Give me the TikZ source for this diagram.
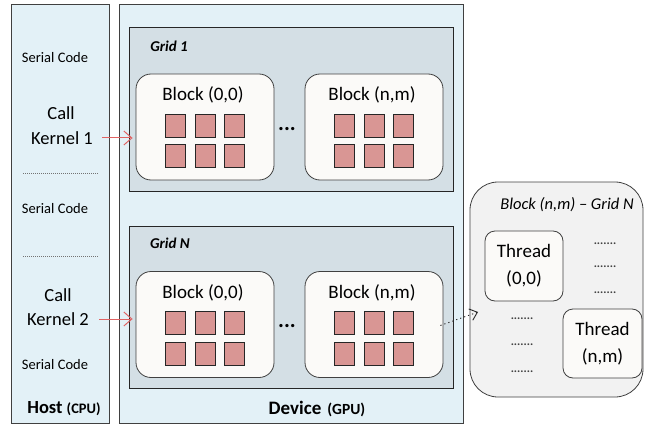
\documentclass[tikz,border=0pt]{standalone}
\usepackage{fontspec}
\setmainfont{Carlito}
\usetikzlibrary{positioning,calc,arrows.meta}

\definecolor{panelblue}{HTML}{E3F1F7}
\definecolor{gridgray}{HTML}{D4DFE5}
\definecolor{blockwhite}{HTML}{FBFAF8}
\definecolor{cellred}{HTML}{D99694}
\definecolor{detailgray}{HTML}{F2F2F2}
\definecolor{callred}{HTML}{E06363}

\tikzset{
  panel/.style={draw=black!75, fill=panelblue, line width=1pt},
  gridarea/.style={draw=black!85, fill=gridgray, line width=1pt},
  blockbox/.style={draw=black!75, fill=blockwhite, rounded corners=15pt, line width=0.8pt,
    minimum width=138pt, minimum height=106pt},
  cell/.style={draw=black!85, fill=cellred, line width=0.9pt, inner sep=0,
    minimum width=20pt, minimum height=23pt},
  threadbox/.style={draw=black!75, fill=blockwhite, rounded corners=10pt, line width=0.8pt,
    align=center, inner sep=0, font=\fontsize{19}{27}\selectfont},
  serialtext/.style={inner sep=0, font=\fontsize{14.5}{16}\selectfont},
  calltext/.style={inner sep=0, font=\fontsize{18.5}{22}\selectfont},
  blocklabel/.style={inner sep=0, font=\fontsize{19}{22}\selectfont},
  gridlabel/.style={inner sep=0, font=\fontsize{15}{16}\selectfont\bfseries\itshape},
  moredots/.style={inner sep=0, anchor=base, font=\fontsize{22}{24}\selectfont\bfseries},
  threaddots/.style={inner sep=0, anchor=base, font=\fontsize{12}{12}\selectfont\bfseries, text=black!75},
  sepline/.style={draw=black!55, line width=0.8pt, dash pattern=on 1pt off 1pt},
  callarrow/.style={draw=callred, line width=1pt, -{Straight Barb[length=8pt,width=14pt]}},
  zoomarrow/.style={draw=black!85, line width=0.9pt, dash pattern=on 1.2pt off 3pt,
    -{Straight Barb[length=7pt,width=12pt]}}
}

\begin{document}
\begin{tikzpicture}[x=1pt,y=-1pt]

	\useasboundingbox (0,0) rectangle (645,425);

	% host and device
	\node[panel, minimum width=98pt, minimum height=418pt] (host) at (60,214) {};
	\node[panel, minimum width=344pt, minimum height=418pt] (device) at (291,214) {};

	% host side code
	\node[serialtext] (ser1) at (55,58) {Serial Code};
	\node[calltext] (call1) at (61,113) {Call};
	\node[calltext] (kern1) at (62,138) {Kernel 1};
	\draw[sepline] (23,173) -- (98,173);
	\node[serialtext] (ser2) at (55,209) {Serial Code};
	\draw[sepline] (23,256) -- (98,256);
	\node[calltext] (call2) at (58,295) {Call};
	\node[calltext] (kern2) at (58,319) {Kernel 2};
	\node[serialtext] (ser3) at (55,365) {Serial Code};
	\node[inner sep=0, font=\bfseries] (hostlbl) at (64,409)
		{\fontsize{18.5}{20}\selectfont Host \fontsize{14.5}{16}\selectfont(CPU)};
	\node[inner sep=0, font=\bfseries] (devlbl) at (317,409)
		{\fontsize{19}{20}\selectfont Device\hspace{6pt}\fontsize{15.5}{16}\selectfont(GPU)};

	% grids
	\node[gridarea, minimum width=324pt, minimum height=163pt] (grid1) at (291,109.5) {};
	\node[gridarea, minimum width=324pt, minimum height=162pt] (gridN) at (291,307) {};
	\node[gridlabel] (g1lbl) at (169,46) {Grid 1};
	\node[gridlabel] (gNlbl) at (170,243) {Grid N};

	% blocks with their threads
	\foreach \bname/\bx/\by/\blabel in {g1b00/205/127/{Block (0,0)}, g1bnm/374/127/{Block (n,m)},
		gNb00/205/324.5/{Block (0,0)}, gNbnm/374/324.5/{Block (n,m)}} {
		\node[blockbox] (\bname) at (\bx,\by) {};
		\node[blocklabel] (\bname-lbl) at ($(\bname.center)+(-2,-32)$) {\blabel};
		\foreach \i/\dx in {1/-29.5,2/0,3/29}
			\foreach \j/\dy in {1/-1.5,2/29}
				\node[cell] (\bname-c\i\j) at ($(\bname.center)+(\dx,\dy)$) {};
	}
	\node[moredots] (g1dots) at (287,131) {...};
	\node[moredots] (gNdots) at (287,327) {...};

	% kernel calls
	\draw[callarrow] ([xshift=9pt]kern1.east) -- ([xshift=-3pt]kern1.east -| g1b00.west);
	\draw[callarrow] ([xshift=10pt]kern2.east) -- ([xshift=-3pt]kern2.east -| gNb00.west);

	% zoomed block
	\node[draw=black!75, fill=detailgray, rounded corners=28pt, line width=0.8pt,
		minimum width=173pt, minimum height=215pt] (detail) at (556.5,289.5) {};
	\node[inner sep=0, font=\fontsize{16.5}{18}\selectfont\itshape] (dtitle) at (567,205)
		{Block (n,m) -- Grid N};
	\node[threadbox, minimum width=78pt, minimum height=70pt] (t00) at (524,266) {Thread\\(0,0)};
	\node[threadbox, minimum width=79pt, minimum height=69pt] (tnm) at (602.5,343.5) {Thread\\(n,m)};
	\foreach \ty in {244,267,293}
		\node[threaddots] at (605,\ty) {.......};
	\foreach \ty in {319,345,372}
		\node[threaddots] at (522,\ty) {.......};

	\coordinate (zoomtip) at (478,312);
	\draw[zoomarrow] ([xshift=-3pt,yshift=-1pt]gNbnm.east) -- (zoomtip);

\end{tikzpicture}
\end{document}
